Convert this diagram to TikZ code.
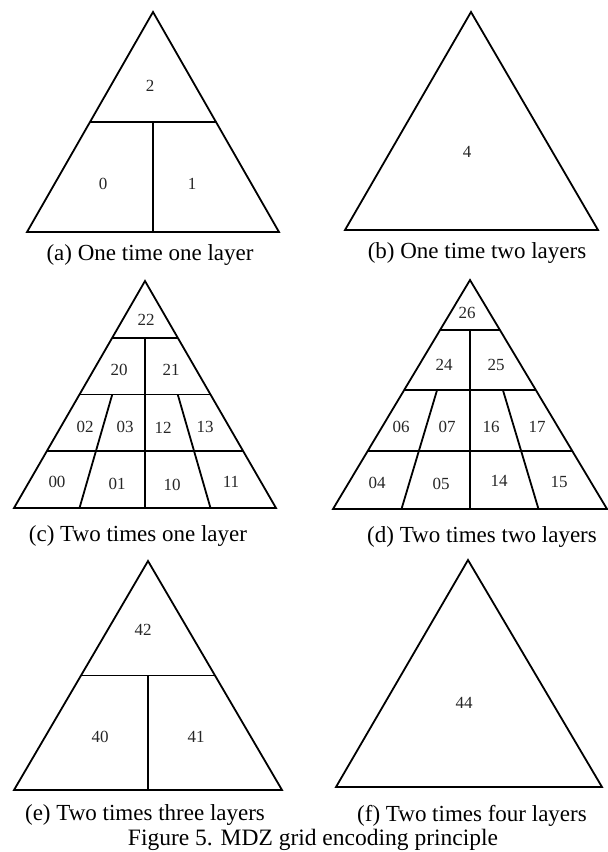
\documentclass[tikz,border=0pt]{standalone}
\usepackage{fontspec}
\setmainfont{Liberation Serif}
\usetikzlibrary{calc}
\begin{document}
\begin{tikzpicture}[x=1pt,y=-1pt,
  edge/.style={draw=black, line width=1.8pt},
  cell/.style={font=\fontsize{17}{17}\selectfont, inner sep=0pt, text=black!85},
  captext/.style={font=\fontsize{23}{23}\selectfont, inner sep=0pt, anchor=base}]
\useasboundingbox (0,0) rectangle (608,852);

% ---------- (a) ----------
\coordinate (aA) at (153,12); \coordinate (aL) at (27,232); \coordinate (aR) at (279,232);
\draw[edge] (aA) -- (aL) -- (aR) -- cycle;
\coordinate (aML) at ($(aA)!.5!(aL)$); \coordinate (aMR) at ($(aA)!.5!(aR)$);
\draw[edge] (aML) -- (aMR);
\draw[edge] ($(aML)!.5!(aMR)$) -- ($(aL)!.5!(aR)$);
\node[cell] (a2) at (150,86) {2};
\node[cell] (a0) at (103,184) {0};
\node[cell] (a1) at (192,184) {1};
\node[captext] (capA) at (150,260) {(a) One time one layer};

% ---------- (b) ----------
\coordinate (bA) at (471,12); \coordinate (bL) at (345,230); \coordinate (bR) at (598,230);
\draw[edge] (bA) -- (bL) -- (bR) -- cycle;
\node[cell] (b4) at (467,152) {4};
\node[captext] (capB) at (477,258) {(b) One time two layers};

% ---------- (c) ----------
\coordinate (cA) at (145,281); \coordinate (cL) at (14,508); \coordinate (cR) at (276,508);
\draw[edge] (cA) -- (cL) -- (cR) -- cycle;
\foreach \f/\n in {.25/1,.5/2,.75/3}{
  \coordinate (cL\n) at ($(cA)!\f!(cL)$);
  \coordinate (cR\n) at ($(cA)!\f!(cR)$);
  \draw[edge] (cL\n) -- (cR\n);
}
\coordinate (cM1) at ($(cL1)!.5!(cR1)$);
\coordinate (cM2) at ($(cL2)!.5!(cR2)$);
\coordinate (cMB) at ($(cL)!.5!(cR)$);
\draw[edge] (cM1) -- (cMB);
\draw[edge] ($(cL2)!.5!(cM2)$) -- ($(cL)!.5!(cMB)$);
\draw[edge] ($(cR2)!.5!(cM2)$) -- ($(cR)!.5!(cMB)$);
\node[cell] (c22) at (146,320) {22};
\node[cell] (c20) at (119,370) {20};
\node[cell] (c21) at (171,370) {21};
\node[cell] (c02) at (85,427) {02};
\node[cell] (c03) at (125,427) {03};
\node[cell] (c12) at (163,428) {12};
\node[cell] (c13) at (205,427) {13};
\node[cell] (c00) at (57,482) {00};
\node[cell] (c01) at (117,484) {01};
\node[cell] (c10) at (172,485) {10};
\node[cell] (c11) at (231,482) {11};
\node[captext] (capC) at (138,541) {(c) Two times one layer};

% ---------- (d) ----------
\coordinate (dA) at (470,280); \coordinate (dL) at (333,509); \coordinate (dR) at (607,509);
\draw[edge] (dA) -- (dL) -- (dR) -- cycle;
\foreach \f/\n in {.218/1,.48/2,.747/3}{
  \coordinate (dL\n) at ($(dA)!\f!(dL)$);
  \coordinate (dR\n) at ($(dA)!\f!(dR)$);
  \draw[edge] (dL\n) -- (dR\n);
}
\coordinate (dM1) at ($(dL1)!.5!(dR1)$);
\coordinate (dM2) at ($(dL2)!.5!(dR2)$);
\coordinate (dMB) at ($(dL)!.5!(dR)$);
\draw[edge] (dM1) -- (dMB);
\draw[edge] ($(dL2)!.5!(dM2)$) -- ($(dL)!.5!(dMB)$);
\draw[edge] ($(dR2)!.5!(dM2)$) -- ($(dR)!.5!(dMB)$);
\node[cell] (d26) at (467,313) {26};
\node[cell] (d24) at (444,365) {24};
\node[cell] (d25) at (496,365) {25};
\node[cell] (d06) at (401,427) {06};
\node[cell] (d07) at (447,427) {07};
\node[cell] (d16) at (491,427) {16};
\node[cell] (d17) at (537,427) {17};
\node[cell] (d04) at (377,483) {04};
\node[cell] (d05) at (441,484) {05};
\node[cell] (d14) at (499,481) {14};
\node[cell] (d15) at (559,482) {15};
\node[captext] (capD) at (482,542) {(d) Two times two layers};

% ---------- (e) ----------
\coordinate (eA) at (148,561); \coordinate (eL) at (14,790); \coordinate (eR) at (282,790);
\draw[edge] (eA) -- (eL) -- (eR) -- cycle;
\coordinate (eML) at ($(eA)!.5!(eL)$); \coordinate (eMR) at ($(eA)!.5!(eR)$);
\draw[edge] (eML) -- (eMR);
\draw[edge] ($(eML)!.5!(eMR)$) -- ($(eL)!.5!(eR)$);
\node[cell] (e42) at (143,630) {42};
\node[cell] (e40) at (100,737) {40};
\node[cell] (e41) at (196,737) {41};
\node[captext] (capE) at (145,820) {(e) Two times three layers};

% ---------- (f) ----------
\coordinate (fA) at (468,560); \coordinate (fL) at (336,787); \coordinate (fR) at (602,787);
\draw[edge] (fA) -- (fL) -- (fR) -- cycle;
\node[cell] (f44) at (464,703) {44};
\node[captext] (capF) at (472,821) {(f) Two times four layers};

% ---------- figure caption ----------
\node[captext, font=\fontsize{23.5}{23.5}\selectfont] (figcap) at (313,845) {Figure 5. MDZ grid encoding principle};
\end{tikzpicture}
\end{document}
